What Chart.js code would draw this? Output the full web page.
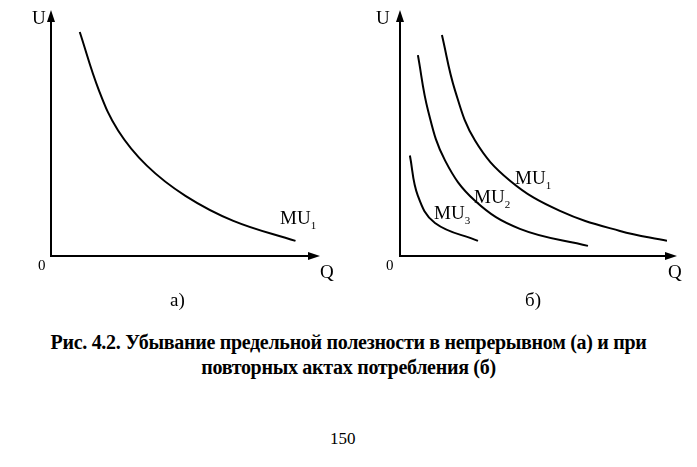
<!DOCTYPE html>
<html><head><meta charset="utf-8">
<script src="https://cdn.jsdelivr.net/npm/chart.js@4/dist/chart.umd.min.js"></script>
<style>
body{margin:0;background:#fff;width:697px;height:467px;position:relative;overflow:hidden;font-family:"Liberation Serif",serif;color:#000}
.c{position:absolute;top:0;height:290px}
.t{position:absolute;font-size:19px;line-height:1}
sub{font-size:11px}
.cap{position:absolute;left:0;width:697px;text-align:center;font-size:20px;font-weight:bold;line-height:25px;top:330px;letter-spacing:-0.3px}
</style></head><body>
<div class="c" style="left:0;width:340px"><canvas id="a"></canvas></div>
<div class="c" style="left:350px;width:347px"><canvas id="b"></canvas></div>
<div class="t" style="left:32px;top:8px">U</div>
<div class="t" style="left:38px;top:258px;font-size:15px">0</div>
<div class="t" style="left:320px;top:262px">Q</div>
<div class="t" style="left:280px;top:208px">MU<sub>1</sub></div>
<div class="t" style="left:170px;top:290px">а)</div>
<div class="t" style="left:376px;top:8px">U</div>
<div class="t" style="left:386px;top:258px;font-size:15px">0</div>
<div class="t" style="left:668px;top:262px">Q</div>
<div class="t" style="left:515px;top:168px">MU<sub>1</sub></div>
<div class="t" style="left:474px;top:187px">MU<sub>2</sub></div>
<div class="t" style="left:434px;top:203px">MU<sub>3</sub></div>
<div class="t" style="left:525px;top:290px">б)</div>
<div class="cap"><b>Рис. 4.2.</b> Убывание предельной полезности в непрерывном (а) и при<br>повторных актах потребления (б)</div>
<div class="t" style="left:330px;top:430px;font-size:17px">150</div>
<script>
const mu1A = [[1.11,9.49],[1.85,7.02],[2.59,5.32],[3.70,3.83],[5.19,2.55],[7.04,1.49],[9.44,0.64]];
const mu1B = [[1.57,9.36],[2.06,7.02],[2.81,4.89],[4.12,3.19],[5.99,1.91],[8.24,1.06],[10,0.64]];
const mu2B = [[0.67,8.51],[1.05,6.17],[1.69,4.04],[2.81,2.34],[4.49,1.15],[7.04,0.43]];
const mu3B = [[0.37,4.26],[0.67,2.55],[1.31,1.40],[2.92,0.64]];

const arrows = {
  id: 'arrows',
  afterDraw(chart) {
    const { ctx, chartArea: a } = chart;
    ctx.save();
    ctx.fillStyle = '#000';
    ctx.beginPath();
    ctx.moveTo(a.left, a.top - 10); ctx.lineTo(a.left - 4, a.top + 2); ctx.lineTo(a.left + 4, a.top + 2); ctx.fill();
    ctx.beginPath();
    ctx.moveTo(a.right + 10, a.bottom); ctx.lineTo(a.right - 2, a.bottom - 4); ctx.lineTo(a.right - 2, a.bottom + 4); ctx.fill();
    ctx.restore();
  },
};

function toPts(arr) { return arr.map(([x, y]) => ({ x, y })); }

function make(id, series, left, right) {
  new Chart(document.getElementById(id), {
    type: 'scatter',
    data: {
      datasets: series.map(s => ({
        data: toPts(s), showLine: true, tension: 0.4, borderColor: '#000',
        borderWidth: 2, pointRadius: 0, fill: false,
      })),
    },
    options: {
      responsive: true, maintainAspectRatio: false, animation: false,
      layout: { padding: { left, top: 20, right, bottom: 26 } },
      plugins: { legend: { display: false }, tooltip: { enabled: false } },
      scales: {
        x: { min: 0, max: 10, ticks: { display: false }, grid: { display: false }, border: { color: '#000', width: 2 } },
        y: { min: 0, max: 10, ticks: { display: false }, grid: { display: false }, border: { color: '#000', width: 2 } },
      },
    },
    plugins: [arrows],
  });
}
make('a', [mu1A], 43, 30);
make('b', [mu1B, mu2B, mu3B], 42, 30);
</script>
</body></html>
